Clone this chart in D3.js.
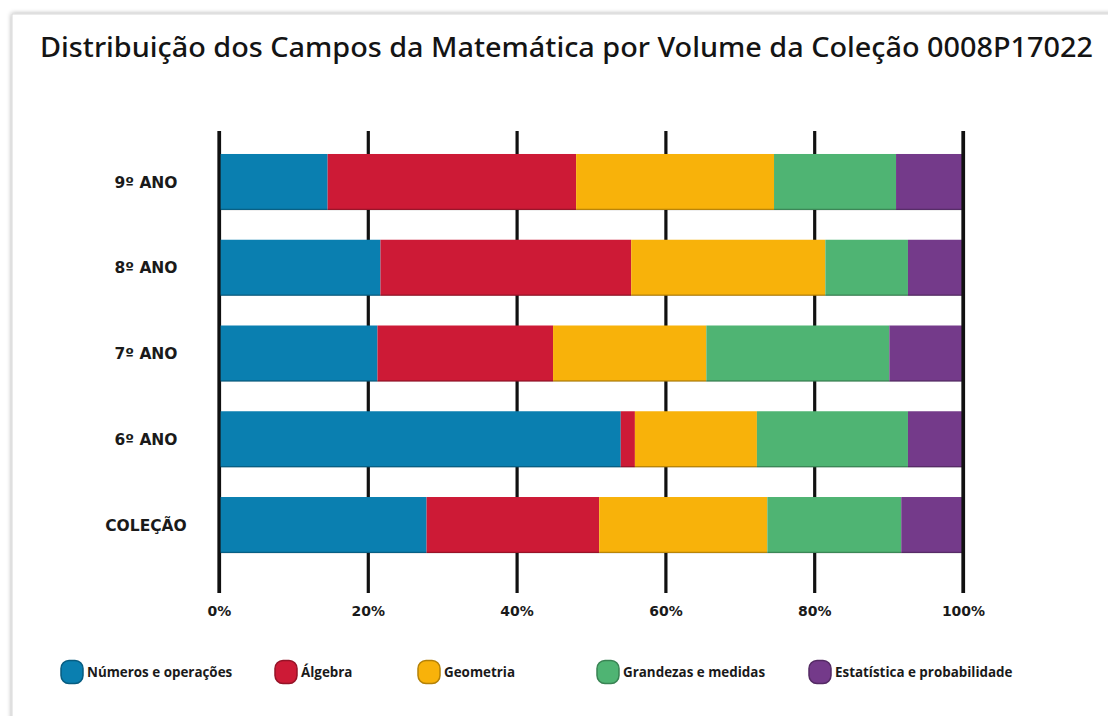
<!DOCTYPE html>
<html>
<head>
<meta charset="utf-8">
<script src="https://cdn.jsdelivr.net/npm/d3@7"></script>
<style>
  html, body { margin: 0; padding: 0; background: #ffffff; }
  svg { display: block; }
</style>
</head>
<body>
<svg id="chart" width="1108" height="716"></svg>
<script>
// Volumes of the collection and the share (%) of each field of mathematics
const categories = ["9º ANO", "8º ANO", "7º ANO", "6º ANO", "COLEÇÃO"];
const fields = ["Números e operações", "Álgebra", "Geometria", "Grandezas e medidas", "Estatística e probabilidade"];
const numeros    = [14.6, 21.7, 21.3, 54.0, 27.9];
const algebra    = [33.4, 33.7, 23.6,  1.9, 23.2];
const geometria  = [26.6, 26.1, 20.6, 16.4, 22.6];
const grandezas  = [16.4, 11.1, 24.6, 20.3, 18.0];
const estatistica = [9.0,  7.4,  9.9,  7.4,  8.3];
const tickValues = [0, 20, 40, 60, 80, 100];
const colors = ["#0a7fb0", "#cd1a36", "#f8b20a", "#4fb473", "#743a8a"];

const seriesValues = [numeros, algebra, geometria, grandezas, estatistica];
const rows = categories.map((c, i) => {
  const r = { cat: c };
  fields.forEach((f, j) => { r[f] = seriesValues[j][i]; });
  return r;
});

const svg = d3.select("#chart");

// card with soft shadow
const defs = svg.append("defs");
const f = defs.append("filter").attr("id", "shadow").attr("x", -0.05).attr("y", -0.05).attr("width", 1.1).attr("height", 1.1);
f.append("feGaussianBlur").attr("in", "SourceAlpha").attr("stdDeviation", 2.5);
f.append("feComponentTransfer").append("feFuncA").attr("type", "linear").attr("slope", 0.35);
const m = f.append("feMerge");
m.append("feMergeNode");
m.append("feMergeNode").attr("in", "SourceGraphic");

svg.append("rect")
  .attr("x", 12).attr("y", 14).attr("width", 1130).attr("height", 740)
  .attr("fill", "#fff").attr("stroke", "#d8d8d8").attr("stroke-width", 1)
  .attr("filter", "url(#shadow)");

// title
svg.append("text")
  .attr("x", 40).attr("y", 57)
  .attr("font-family", "'Noto Sans', 'Open Sans', sans-serif")
  .attr("font-weight", 500)
  .attr("font-size", 26.5)
  .attr("fill", "#141414")
  .attr("textLength", 1053)
  .attr("lengthAdjust", "spacingAndGlyphs")
  .text("Distribuição dos Campos da Matemática por Volume da Coleção 0008P17022");

const x = d3.scaleLinear().domain([0, 100]).range([219, 963]);
const y = d3.scaleBand().domain(categories).range([131, 576]).paddingInner(0.347).paddingOuter(0.268);
const axisY = 593;

// vertical tick lines and percentage labels
const xAxis = d3.axisBottom(x)
  .tickValues(tickValues)
  .tickSize(-(axisY - 131))
  .tickPadding(13)
  .tickFormat(d => d + "%");

const gx = svg.append("g").attr("transform", `translate(0,${axisY})`).call(xAxis);
gx.select(".domain").remove();
gx.selectAll(".tick line").attr("stroke", "#111").attr("stroke-width", 3.2);
gx.selectAll(".tick text")
  .attr("font-family", "'DejaVu Sans', sans-serif")
  .attr("font-weight", 700)
  .attr("font-size", 14)
  .attr("fill", "#1a1a1a");

// stacked bars
const stack = d3.stack().keys(fields);
const layers = stack(rows);

svg.append("g").selectAll("g")
  .data(layers)
  .join("g")
  .attr("fill", (d, i) => colors[i])
  .selectAll("rect")
  .data(d => d)
  .join("rect")
  .attr("x", d => x(d[0]))
  .attr("y", d => y(d.data.cat))
  .attr("width", d => x(d[1]) - x(d[0]))
  .attr("height", y.bandwidth());

// subtle darker bottom edge of the bars
svg.append("g").selectAll("line")
  .data(categories)
  .join("line")
  .attr("x1", x(0)).attr("x2", x(100))
  .attr("y1", d => y(d) + y.bandwidth() - 0.5)
  .attr("y2", d => y(d) + y.bandwidth() - 0.5)
  .attr("stroke", "#000").attr("stroke-opacity", 0.25).attr("stroke-width", 1.5);

// 0% and 100% lines drawn over the bar ends
svg.append("g").selectAll("line")
  .data([0, 100])
  .join("line")
  .attr("x1", d => x(d)).attr("x2", d => x(d))
  .attr("y1", 131).attr("y2", axisY)
  .attr("stroke", "#111").attr("stroke-width", 3.2);

// category labels
svg.append("g").selectAll("text")
  .data(categories)
  .join("text")
  .attr("x", 146)
  .attr("y", d => y(d) + y.bandwidth() / 2)
  .attr("dy", "0.36em")
  .attr("text-anchor", "middle")
  .attr("font-family", "'DejaVu Sans', sans-serif")
  .attr("font-weight", 700)
  .attr("font-size", 15.5)
  .attr("fill", "#1a1a1a")
  .text(d => d);

// legend
const legendX = [61, 275, 418, 597, 809];
const legend = svg.append("g").selectAll("g")
  .data(fields)
  .join("g")
  .attr("transform", (d, i) => `translate(${legendX[i]},${672})`);

legend.append("rect")
  .attr("x", 0).attr("y", -11.5)
  .attr("width", 22).attr("height", 23)
  .attr("rx", 8).attr("ry", 8)
  .attr("fill", (d, i) => colors[i])
  .attr("stroke", (d, i) => d3.color(colors[i]).darker(0.9))
  .attr("stroke-width", 1.5);

legend.append("text")
  .attr("x", 26)
  .attr("dy", "0.35em")
  .attr("font-family", "'Open Sans', 'Noto Sans', sans-serif")
  .attr("font-weight", 700)
  .attr("font-size", 13.4)
  .attr("fill", "#1a1a1a")
  .text(d => d);
</script>
</body>
</html>
